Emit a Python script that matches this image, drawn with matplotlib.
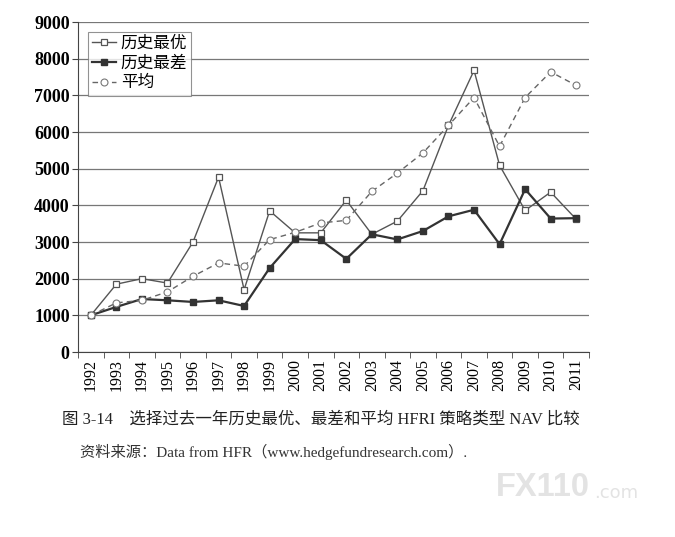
import numpy as np
import matplotlib
matplotlib.use("Agg")
import matplotlib.pyplot as plt

years = [str(y) for y in range(1992, 2012)]
best = [1000, 1850, 2000, 1880, 3000, 4770, 1700, 3850, 3250, 3250,
        4140, 3210, 3570, 4400, 6180, 7680, 5090, 3860, 4360, 3620]
worst = [1000, 1230, 1445, 1410, 1365, 1410, 1255, 2290, 3080, 3050,
         2540, 3210, 3070, 3300, 3700, 3880, 2940, 4440, 3640, 3650]
avg = [1000, 1340, 1410, 1640, 2065, 2430, 2340, 3065, 3265, 3520,
       3590, 4380, 4880, 5430, 6180, 6940, 5610, 6940, 7640, 7270]

plt.rcParams['font.family'] = ['Liberation Serif', 'Noto Sans CJK SC', 'DejaVu Sans']

fig = plt.figure(figsize=(6.75, 5.37), dpi=100)
ax = fig.add_axes([0.1156, 0.3445, 0.757, 0.6145])

x = np.arange(len(years))
ax.plot(x, best, color='#555555', lw=1.0, marker='s', ms=5,
        mfc='white', mec='#555555', mew=0.9, label='历史最优')
ax.plot(x, worst, color='#333333', lw=1.6, marker='s', ms=5,
        mfc='#333333', mec='#333333', label='历史最差')
ax.plot(x, avg, color='#666666', lw=1.0, ls=(0, (4, 3)), marker='o', ms=5,
        mfc='white', mec='#777777', mew=0.8, label='平均')

ax.set_xlim(-0.5, len(years) - 0.5)
ax.set_ylim(0, 9000)
ax.set_yticks(range(0, 9001, 1000))
ax.set_yticklabels([str(v) for v in range(0, 9001, 1000)], fontsize=13, fontweight='bold')
ax.set_xticks(x)
ax.set_xticklabels(years, rotation=90, fontsize=11.5)
ax.set_xticks(np.arange(-0.5, len(years), 1), minor=True)
ax.tick_params(axis='x', which='major', length=0, pad=5)
ax.tick_params(axis='x', which='minor', length=4, direction='out', color='#444444')
ax.tick_params(axis='y', length=4, direction='out', color='#444444', pad=2)
ax.yaxis.grid(True, color='#777777', lw=0.9)
ax.set_axisbelow(True)
for s in ['top', 'right']:
    ax.spines[s].set_visible(False)
ax.spines['left'].set_color('#444444')
ax.spines['bottom'].set_color('#444444')

leg = ax.legend(loc='upper left', bbox_to_anchor=(0.02, 0.97), fontsize=12,
                frameon=True, fancybox=False, edgecolor='#777777',
                handlelength=1.4, handletextpad=0.3, borderpad=0.25,
                labelspacing=0.22, borderaxespad=0)
leg.get_frame().set_linewidth(0.8)

fig.text(62 / 675, 1 - 420 / 537, '图 3-14    选择过去一年历史最优、最差和平均 HFRI 策略类型 NAV 比较',
         fontsize=11.9, va='center', ha='left', color='#222222')
fig.text(80 / 675, 1 - 452 / 537, '资料来源：Data from HFR（www.hedgefundresearch.com）.',
         fontsize=11, va='center', ha='left', color='#333333')

# watermark
fig.text(496 / 675, 1 - 488 / 537, 'FX110', fontsize=23.5, fontweight='bold',
         family='Liberation Sans', color='#e3e3e3', va='center', ha='left')
fig.text(594 / 675, 1 - 493 / 537, '.com', fontsize=13,
         family='DejaVu Sans', color='#e3e3e3', va='center', ha='left')

fig.savefig('out.png', dpi=100)
